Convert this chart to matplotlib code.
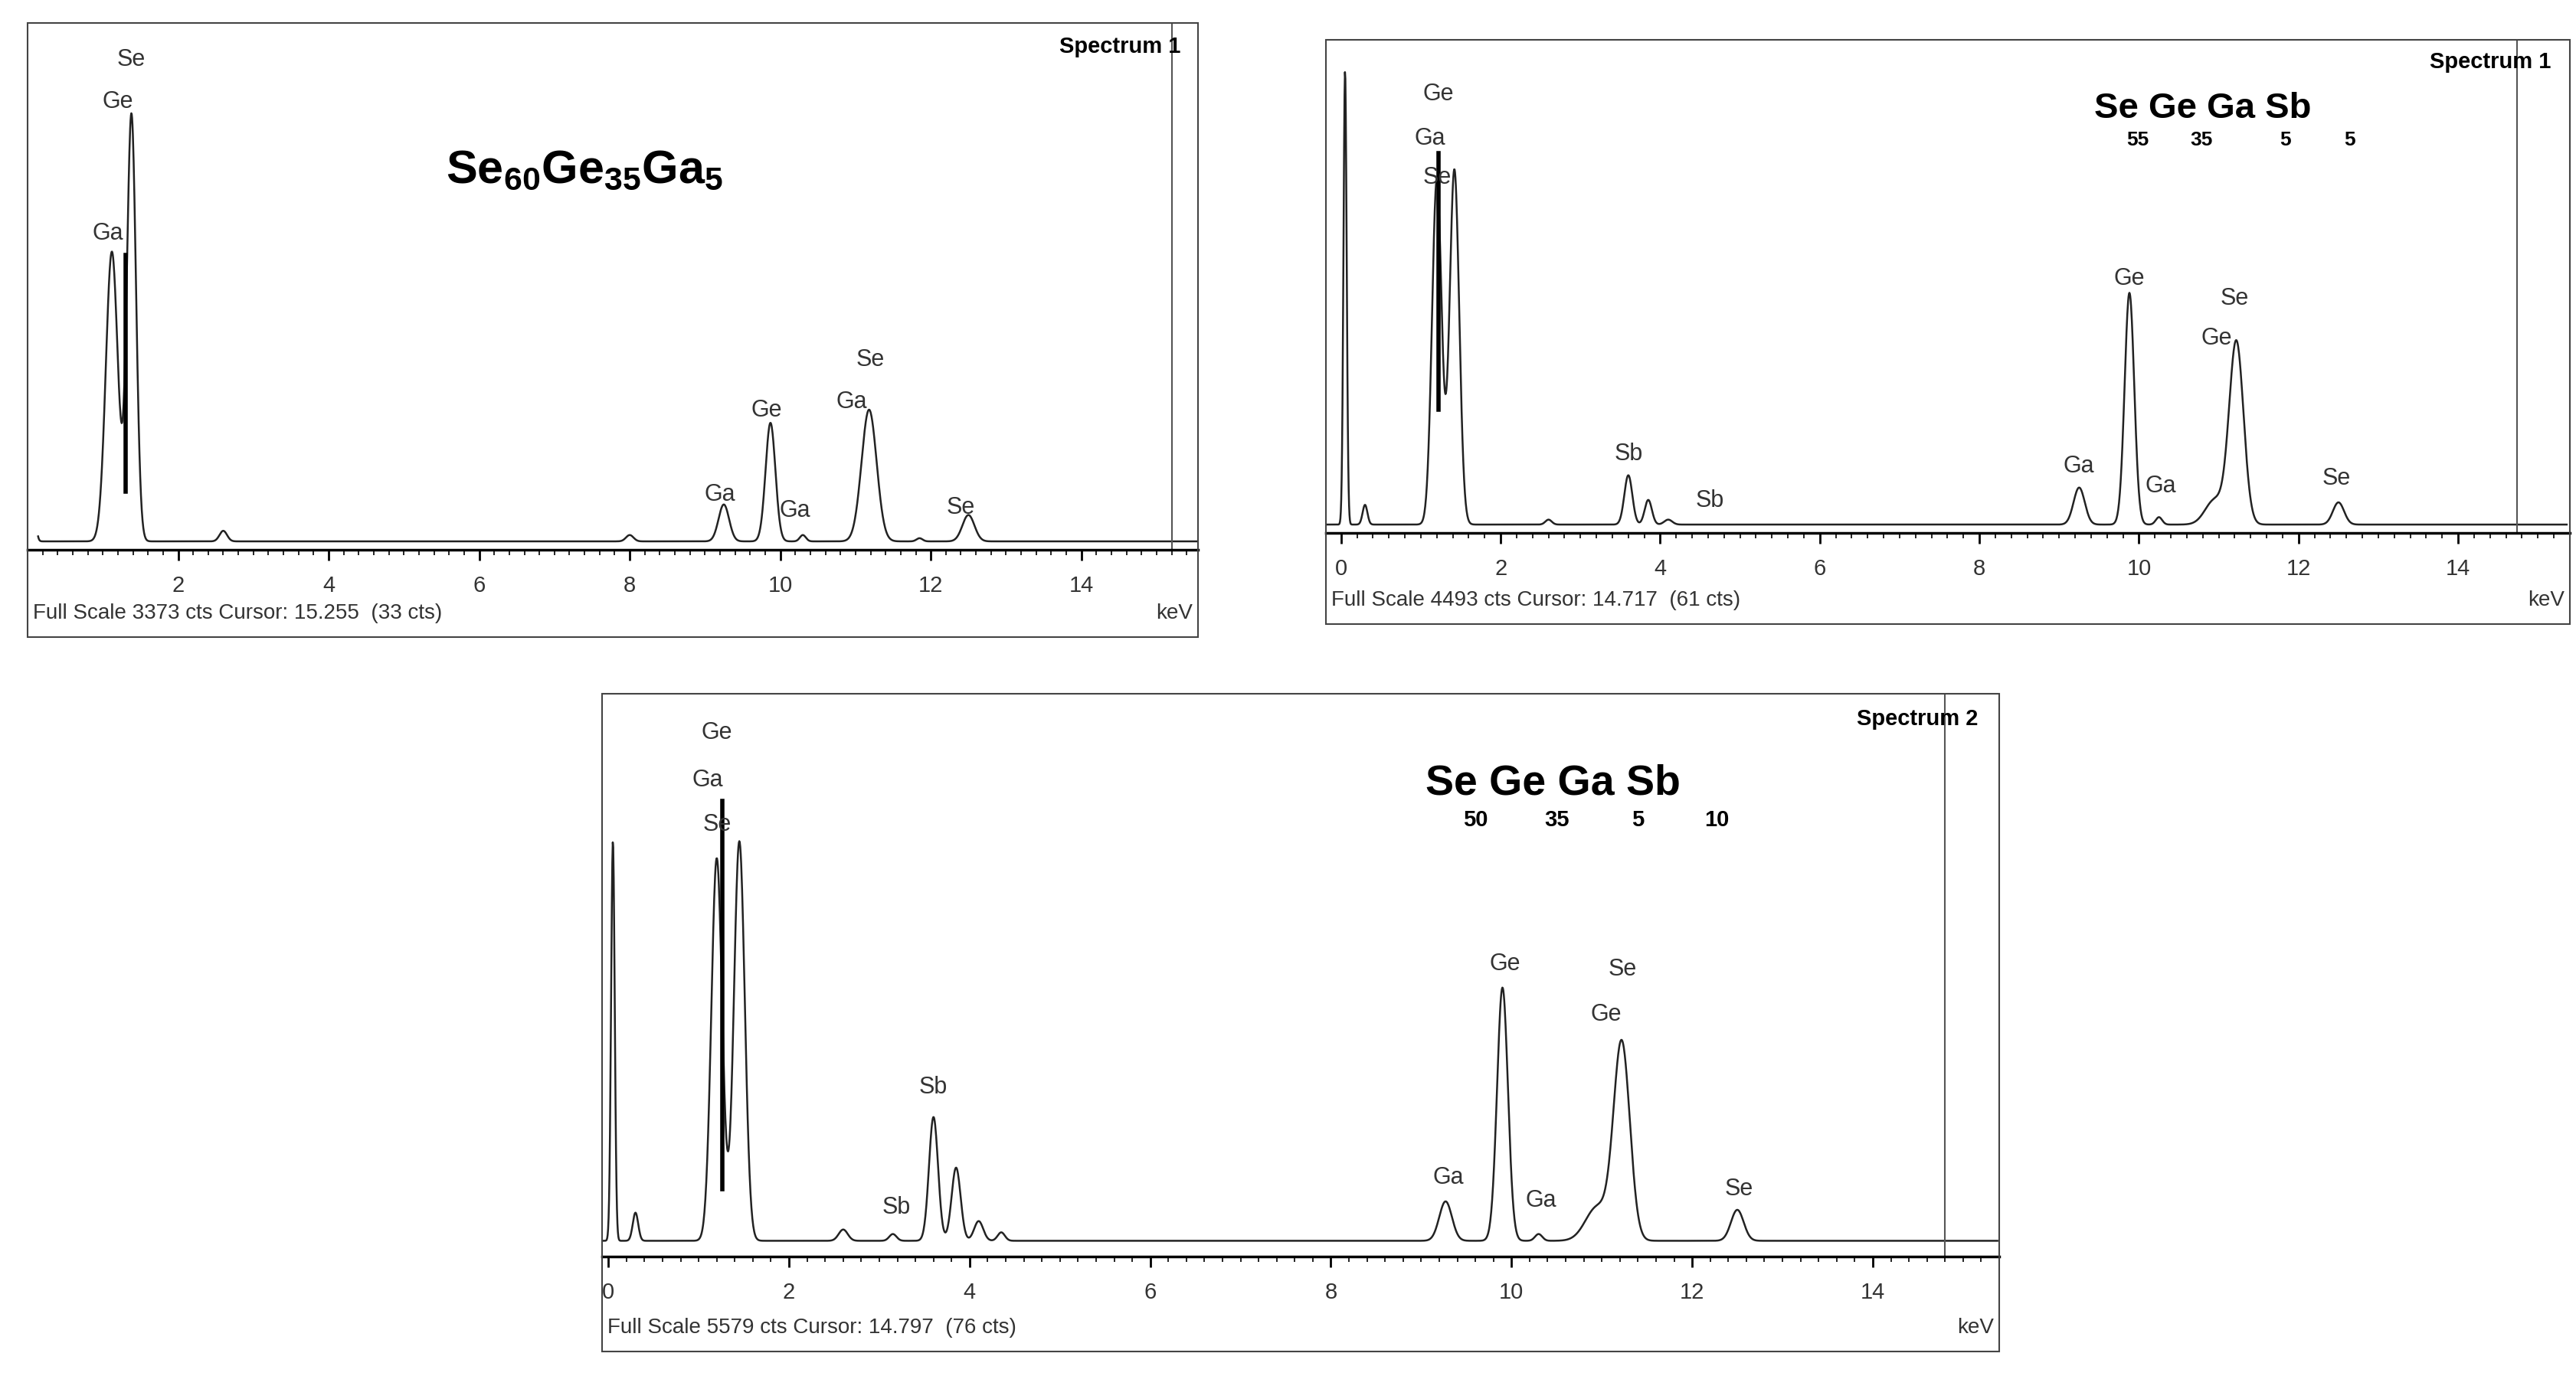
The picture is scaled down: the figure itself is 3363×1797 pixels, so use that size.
import numpy as np
import matplotlib
matplotlib.use("Agg")
import matplotlib.pyplot as plt
from matplotlib.patches import Rectangle

plt.rcParams["font.family"] = ["Liberation Sans", "DejaVu Sans"]
plt.rcParams["mathtext.fontset"] = "custom"
plt.rcParams["mathtext.rm"] = "Liberation Sans"
plt.rcParams["mathtext.bf"] = "Liberation Sans:bold"

W, H = 3363, 1797

# ── peak tables (keV, height as fraction of panel, sigma keV) ──
p1_pos    = [0.08, 1.12, 1.38, 2.6, 8.0, 9.25, 9.87, 10.3, 11.18, 11.85, 12.5]
p1_height = [0.07, 0.55, 0.81, 0.02, 0.012, 0.07, 0.225, 0.012, 0.25, 0.006, 0.05]
p1_sigma  = [0.03, 0.08, 0.06, 0.05, 0.05, 0.07, 0.065, 0.04, 0.1, 0.04, 0.08]
p1_base   = 0.016

p2_pos    = [0.05, 0.3, 1.2, 1.42, 2.6, 3.6, 3.85, 4.1, 9.25, 9.88, 10.25, 10.95, 11.22, 12.5]
p2_height = [0.92, 0.04, 0.70, 0.72, 0.01, 0.10, 0.05, 0.01, 0.075, 0.47, 0.015, 0.05, 0.37, 0.045]
p2_sigma  = [0.02, 0.03, 0.06, 0.06, 0.04, 0.05, 0.045, 0.05, 0.07, 0.06, 0.04, 0.12, 0.09, 0.07]
p2_base   = 0.017

p3_pos    = [0.05, 0.3, 1.2, 1.45, 2.6, 3.15, 3.6, 3.85, 4.1, 4.35, 9.27, 9.9, 10.3, 10.95, 11.22, 12.5]
p3_height = [0.71, 0.05, 0.68, 0.71, 0.02, 0.012, 0.22, 0.13, 0.035, 0.015, 0.07, 0.45, 0.012, 0.06, 0.35, 0.055]
p3_sigma  = [0.02, 0.03, 0.06, 0.06, 0.05, 0.04, 0.05, 0.05, 0.05, 0.04, 0.07, 0.06, 0.04, 0.13, 0.09, 0.07]
p3_base   = 0.028

# label tables: text, keV, y fraction
p1_labels = [("Se", 1.38, 0.93), ("Ge", 1.2, 0.85), ("Ga", 1.07, 0.60), ("Ga", 9.2, 0.105),
             ("Ge", 9.82, 0.264), ("Ga", 10.2, 0.074), ("Se", 11.2, 0.36), ("Ga", 10.95, 0.28),
             ("Se", 12.4, 0.08)]
p2_labels = [("Ge", 1.22, 0.89), ("Ga", 1.11, 0.80), ("Se", 1.2, 0.72), ("Sb", 3.6, 0.16),
             ("Sb", 4.62, 0.065), ("Ga", 9.24, 0.135), ("Ge", 9.88, 0.515), ("Ga", 10.27, 0.095),
             ("Se", 11.2, 0.475), ("Ge", 10.97, 0.395), ("Se", 12.47, 0.11)]
p3_labels = [("Ge", 1.2, 0.93), ("Ga", 1.1, 0.846), ("Se", 1.2, 0.767), ("Sb", 3.6, 0.30),
             ("Sb", 3.19, 0.087), ("Ga", 9.3, 0.14), ("Ge", 9.93, 0.52), ("Ga", 10.33, 0.10),
             ("Se", 11.23, 0.51), ("Ge", 11.05, 0.43), ("Se", 12.52, 0.12)]

ticks = [2, 4, 6, 8, 10, 12, 14]

fig = plt.figure(figsize=(W / 100, H / 100), dpi=100)


def spectrum(pos, height, sigma, base, x):
    y = np.full_like(x, base)
    for p, h, s in zip(pos, height, sigma):
        y += h * np.exp(-0.5 * ((x - p) / s) ** 2)
    return y


def panel(frame, axis_y, xlim, pos, height, sigma, base, labels, marker, cursor,
          spec, footer, show_zero):
    fx0, fy0, fx1, fy1 = frame  # pixel coords, y from top
    fig.add_artist(Rectangle((fx0 / W, 1 - fy1 / H), (fx1 - fx0) / W, (fy1 - fy0) / H,
                             transform=fig.transFigure, fill=False, lw=1.5, ec="#444"))
    ax = fig.add_axes([fx0 / W, 1 - axis_y / H, (fx1 - fx0) / W, (axis_y - fy0) / H])
    ax.set_facecolor("none")
    for s in ["top", "left", "right"]:
        ax.spines[s].set_visible(False)
    ax.spines["bottom"].set_linewidth(2.5)
    x = np.linspace(xlim[0], xlim[1], 3000)
    ax.plot(x, spectrum(pos, height, sigma, base, x), color="#222", lw=1.8)
    ax.plot([marker[0], marker[0]], [marker[1], marker[2]], color="black", lw=4)
    ax.axvline(cursor, color="#555", lw=1.5)
    ax.set_xlim(*xlim)
    ax.set_ylim(0, 1)
    ax.set_yticks([])
    tk = ([0] if show_zero else []) + ticks
    ax.set_xticks(tk)
    ax.set_xticklabels([str(t) for t in tk], fontsize=21, color="#333")
    ax.set_xticks(np.arange(0, 15.6, 0.2), minor=True)
    ax.tick_params(axis="x", which="major", direction="out", length=10, width=2, pad=14)
    ax.tick_params(axis="x", which="minor", direction="out", length=5, width=1.2)
    for t, kx, ky in labels:
        ax.text(kx, ky, t, fontsize=22, color="#333", ha="center", va="center")
    ax.text(0.985, 0.955, spec, transform=ax.transAxes, fontsize=21, fontweight="bold",
            ha="right", va="center")
    fy = 1 - (fy1 - 18) / H
    fig.text(fx0 / W + 0.002, fy, footer, fontsize=20, color="#333", va="bottom")
    fig.text(fx1 / W - 0.002, fy, "keV", fontsize=20, color="#333", va="bottom", ha="right")
    return ax


ax1 = panel((36, 30, 1564, 832), 718, (0.14, 15.55), p1_pos, p1_height, p1_sigma, p1_base,
            p1_labels, (1.30, 0.11, 0.56), 15.2, "Spectrum 1",
            "Full Scale 3373 cts Cursor: 15.255  (33 cts)", False)
ax1.text(7.4, 0.72, r"$\mathbf{Se_{60}Ge_{35}Ga_{5}}$", fontsize=44, ha="center", va="center")

ax2 = panel((1731, 52, 3355, 815), 696, (-0.19, 15.36), p2_pos, p2_height, p2_sigma, p2_base,
            p2_labels, (1.22, 0.25, 0.77), 14.74, "Spectrum 1",
            "Full Scale 4493 cts Cursor: 14.717  (61 cts)", True)
ax2.text(10.8, 0.86, "Se Ge Ga Sb", fontsize=34, fontweight="bold", ha="center", va="center")
for s, kx in zip(["55", "35", "5", "5"], [9.98, 10.78, 11.83, 12.64]):
    ax2.text(kx, 0.796, s, fontsize=19, fontweight="bold", ha="center", va="center")

ax3 = panel((786, 906, 2610, 1765), 1641, (-0.07, 15.38), p3_pos, p3_height, p3_sigma, p3_base,
            p3_labels, (1.26, 0.12, 0.81), 14.8, "Spectrum 2",
            "Full Scale 5579 cts Cursor: 14.797  (76 cts)", True)
ax3.text(10.46, 0.84, "Se Ge Ga Sb", fontsize=40, fontweight="bold", ha="center", va="center")
for s, kx in zip(["50", "35", "5", "10"], [9.6, 10.5, 11.4, 12.27]):
    ax3.text(kx, 0.776, s, fontsize=21, fontweight="bold", ha="center", va="center")

fig.savefig("out.png", dpi=100)
